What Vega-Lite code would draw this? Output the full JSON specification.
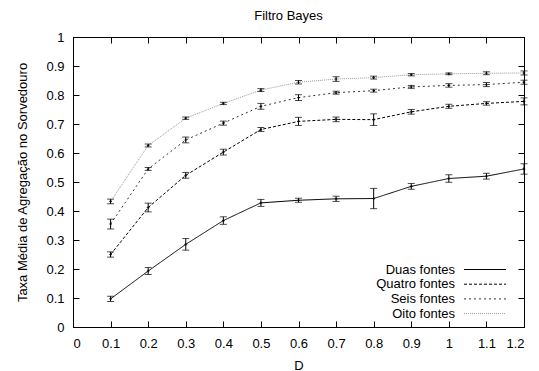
{
  "$schema": "https://vega.github.io/schema/vega-lite/v6.json",
  "autosize": {"type": "none"},
  "width": 451,
  "height": 290,
  "padding": {"left": 73, "top": 37, "right": 15, "bottom": 44},
  "title": {"text": "Filtro Bayes", "fontSize": 13, "font": "Liberation Sans", "fontWeight": "normal", "color": "black", "offset": 8, "dx": -10},
  "config": {
    "view": {"stroke": "black", "strokeWidth": 1},
    "font": "Liberation Sans",
    "axis": {
      "grid": false, "labelFontSize": 13, "labelColor": "black", "labelFont": "Liberation Sans",
      "domainColor": "black", "tickColor": "black", "tickSize": 6,
      "titleFontSize": 13, "titleFontWeight": "normal", "titleColor": "black", "titleFont": "Liberation Sans"
    }
  },
  "data": {"values": [
    {"D": 0.1, "s": "Duas fontes", "v": 0.097, "e": 0.009},
    {"D": 0.2, "s": "Duas fontes", "v": 0.193, "e": 0.012},
    {"D": 0.3, "s": "Duas fontes", "v": 0.285, "e": 0.02},
    {"D": 0.4, "s": "Duas fontes", "v": 0.367, "e": 0.013},
    {"D": 0.5, "s": "Duas fontes", "v": 0.428, "e": 0.012},
    {"D": 0.6, "s": "Duas fontes", "v": 0.437, "e": 0.007},
    {"D": 0.7, "s": "Duas fontes", "v": 0.442, "e": 0.009},
    {"D": 0.8, "s": "Duas fontes", "v": 0.443, "e": 0.035},
    {"D": 0.9, "s": "Duas fontes", "v": 0.485, "e": 0.01},
    {"D": 1.0, "s": "Duas fontes", "v": 0.512, "e": 0.013},
    {"D": 1.1, "s": "Duas fontes", "v": 0.52, "e": 0.01},
    {"D": 1.2, "s": "Duas fontes", "v": 0.545, "e": 0.018},
    {"D": 0.1, "s": "Quatro fontes", "v": 0.25, "e": 0.009},
    {"D": 0.2, "s": "Quatro fontes", "v": 0.412, "e": 0.015},
    {"D": 0.3, "s": "Quatro fontes", "v": 0.523, "e": 0.01},
    {"D": 0.4, "s": "Quatro fontes", "v": 0.603, "e": 0.01},
    {"D": 0.5, "s": "Quatro fontes", "v": 0.681, "e": 0.007},
    {"D": 0.6, "s": "Quatro fontes", "v": 0.709, "e": 0.014},
    {"D": 0.7, "s": "Quatro fontes", "v": 0.716, "e": 0.008},
    {"D": 0.8, "s": "Quatro fontes", "v": 0.715, "e": 0.02},
    {"D": 0.9, "s": "Quatro fontes", "v": 0.742, "e": 0.008},
    {"D": 1.0, "s": "Quatro fontes", "v": 0.761, "e": 0.007},
    {"D": 1.1, "s": "Quatro fontes", "v": 0.771, "e": 0.006},
    {"D": 1.2, "s": "Quatro fontes", "v": 0.778, "e": 0.012},
    {"D": 0.1, "s": "Seis fontes", "v": 0.355, "e": 0.017},
    {"D": 0.2, "s": "Seis fontes", "v": 0.545, "e": 0.005},
    {"D": 0.3, "s": "Seis fontes", "v": 0.645, "e": 0.01},
    {"D": 0.4, "s": "Seis fontes", "v": 0.703, "e": 0.007},
    {"D": 0.5, "s": "Seis fontes", "v": 0.761, "e": 0.01},
    {"D": 0.6, "s": "Seis fontes", "v": 0.791, "e": 0.01},
    {"D": 0.7, "s": "Seis fontes", "v": 0.808, "e": 0.005},
    {"D": 0.8, "s": "Seis fontes", "v": 0.815, "e": 0.005},
    {"D": 0.9, "s": "Seis fontes", "v": 0.828, "e": 0.005},
    {"D": 1.0, "s": "Seis fontes", "v": 0.833, "e": 0.006},
    {"D": 1.1, "s": "Seis fontes", "v": 0.836, "e": 0.007},
    {"D": 1.2, "s": "Seis fontes", "v": 0.844, "e": 0.007},
    {"D": 0.1, "s": "Oito fontes", "v": 0.433, "e": 0.008},
    {"D": 0.2, "s": "Oito fontes", "v": 0.626, "e": 0.005},
    {"D": 0.3, "s": "Oito fontes", "v": 0.72, "e": 0.004},
    {"D": 0.4, "s": "Oito fontes", "v": 0.771, "e": 0.004},
    {"D": 0.5, "s": "Oito fontes", "v": 0.817, "e": 0.005},
    {"D": 0.6, "s": "Oito fontes", "v": 0.844, "e": 0.006},
    {"D": 0.7, "s": "Oito fontes", "v": 0.855, "e": 0.008},
    {"D": 0.8, "s": "Oito fontes", "v": 0.86, "e": 0.005},
    {"D": 0.9, "s": "Oito fontes", "v": 0.87, "e": 0.004},
    {"D": 1.0, "s": "Oito fontes", "v": 0.873, "e": 0.003},
    {"D": 1.1, "s": "Oito fontes", "v": 0.875, "e": 0.005},
    {"D": 1.2, "s": "Oito fontes", "v": 0.876, "e": 0.007}
  ]},
  "layer": [
    {
      "mark": {"type": "line", "strokeWidth": 1},
      "encoding": {
        "x": {"field": "D", "type": "quantitative", "scale": {"domain": [0, 1.2], "nice": false, "zero": false},
              "axis": {"orient": "bottom", "title": "D", "ticks": false, "values": [0, 0.1, 0.2, 0.3, 0.4, 0.5, 0.6, 0.7, 0.8, 0.9, 1, 1.1, 1.2], "format": "~g", "labelPadding": 10, "titlePadding": 9}},
        "y": {"field": "v", "type": "quantitative", "scale": {"domain": [0, 1], "nice": false},
              "axis": {"orient": "left", "title": "Taxa Média de Agregação no Sorvedouro", "ticks": false, "values": [0, 0.1, 0.2, 0.3, 0.4, 0.5, 0.6, 0.7, 0.8, 0.9, 1], "format": "~g", "labelPadding": 9, "titlePadding": 16}},
        "color": {"field": "s", "type": "nominal",
                  "scale": {"domain": ["Duas fontes", "Quatro fontes", "Seis fontes", "Oito fontes"], "range": ["#000000", "#000000", "#333333", "#999999"]},
                  "legend": {
                    "title": null, "orient": "none", "legendX": 300, "legendY": 226, "padding": 0,
                    "symbolType": "M-6,0H6", "symbolSize": 49, "symbolStrokeWidth": 1, "rowPadding": 0.7,
                    "labelFontSize": 13, "labelColor": "black", "labelFont": "Liberation Sans",
                    "encode": {
                      "labels": {"update": {"x": {"value": 82}, "align": {"value": "right"}}},
                      "symbols": {"update": {"x": {"value": 112}}}
                    }
                  }},
        "strokeDash": {"field": "s", "type": "nominal",
                       "scale": {"domain": ["Duas fontes", "Quatro fontes", "Seis fontes", "Oito fontes"], "range": [[1, 0], [3, 2], [2, 3], [1, 1]]}}
      }
    },
    {
      "mark": {"type": "errorbar", "ticks": {"size": 7, "color": "black"}, "color": "black", "thickness": 1},
      "encoding": {
        "x": {"field": "D", "type": "quantitative", "axis": null},
        "y": {"field": "v", "type": "quantitative", "axis": null},
        "yError": {"field": "e"}
      }
    },
    {
      "mark": {"type": "point", "shape": "cross", "size": 8, "filled": true, "color": "black"},
      "encoding": {
        "x": {"field": "D", "type": "quantitative", "axis": null},
        "y": {"field": "v", "type": "quantitative", "axis": null}
      }
    },
    {
      "mark": {"type": "point", "opacity": 0},
      "encoding": {
        "x": {"field": "D", "type": "quantitative", "axis": {"orient": "top", "offset": -290, "labels": false, "title": null}},
        "y": {"field": "v", "type": "quantitative", "axis": {"orient": "right", "offset": -451, "labels": false, "title": null}}
      }
    },
    {
      "mark": {"type": "point", "opacity": 0},
      "encoding": {
        "x": {"field": "D", "type": "quantitative", "axis": {"orient": "bottom", "offset": -290, "labels": false, "title": null}},
        "y": {"field": "v", "type": "quantitative", "axis": {"orient": "left", "offset": -451, "labels": false, "title": null}}
      }
    }
  ],
  "resolve": {"axis": {"x": "independent", "y": "independent"}}
}
